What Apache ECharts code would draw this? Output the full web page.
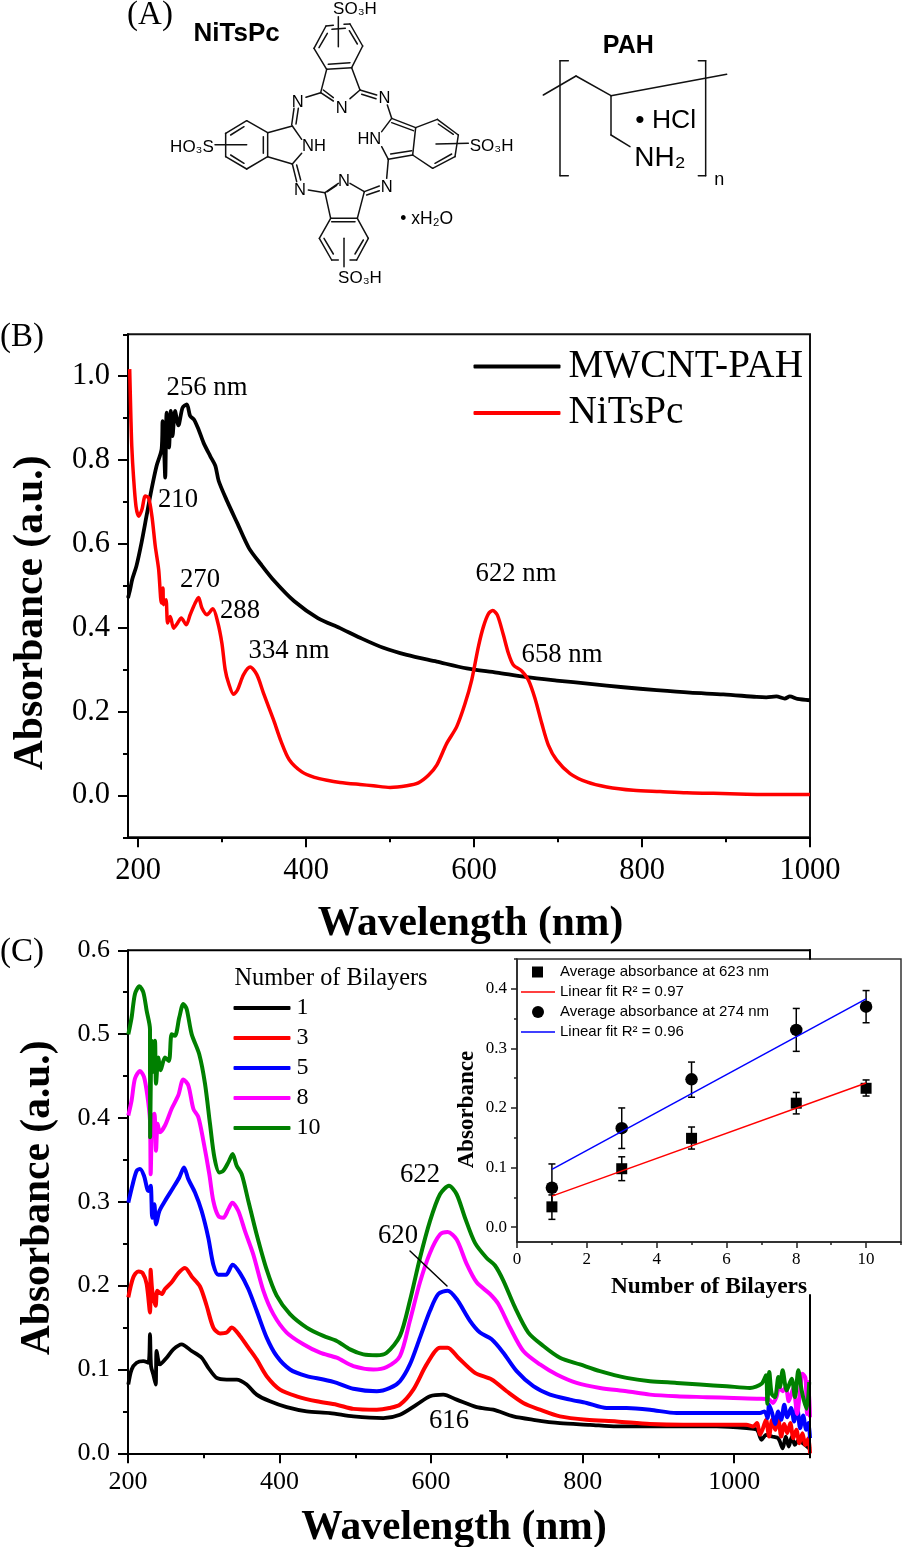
<!DOCTYPE html>
<html><head><meta charset="utf-8">
<style>html,body{margin:0;padding:0;background:#fff}#c{width:902px;height:1547px}</style>
<script src="https://cdn.jsdelivr.net/npm/echarts@6/dist/echarts.min.js"></script>
</head><body><div id="c"></div>
<script>
// ---------- DATA ----------
const mwcntPah=[[188,.471],[190.5,.491],[193,.515],[198,.547],[204,.602],[210,.666],[216,.730],[222,.786],[228,.826],[229.2,.893],[231,.826],[232.3,.758],[234,.913],[236.8,.83],[239,.917],[241,.857],[244,.917],[248,.883],[253,.925],[258,.933],[262,.905],[266.5,.897],[272,.873],[278,.841],[286,.809],[292,.786],[296,.750],[306,.702],[318,.650],[332,.590],[346,.552],[362,.512],[386,.463],[414,.423],[440.5,.399],[464.3,.376],[492,.352],[519.9,.335],[555.6,.319],[591.3,.303],[627,.293],[662.7,.282],[698.4,.274],[738,.266],[777.8,.258],[817.5,.251],[857.1,.245],[896.8,.241],[936.5,.235],[948,.234],[960,.236],[970,.231],[976,.236],[985,.230],[1000,.227]];
const niTsPc=[[190,1.017],[191.5,.897],[192.5,.833],[194.5,.762],[197.5,.690],[200.7,.666],[204.6,.682],[208.6,.714],[212.5,.71],[216.5,.666],[220.5,.594],[224.5,.539],[227.7,.459],[229.6,.495],[230.4,.455],[233.2,.467],[235.2,.411],[238.3,.427],[242.3,.399],[247,.411],[251.4,.423],[257.4,.407],[262,.431],[268,.459],[272,.472],[276,.447],[282,.431],[289,.445],[294.6,.415],[299.8,.363],[303.7,.3],[307.7,.268],[313.7,.241],[318.5,.252],[325.6,.288],[333.5,.306],[341.4,.288],[349.3,.244],[361.3,.18],[370,.13],[380,.085],[395,.056],[410,.043],[425,.036],[440.5,.031],[464.3,.026],[480.2,.023],[500,.019],[519.9,.023],[533.7,.030],[545.7,.048],[555.6,.072],[567.5,.124],[579.4,.164],[589.3,.219],[597.2,.275],[605.2,.355],[611.1,.402],[617.1,.433],[622.2,.441],[627.8,.430],[634.9,.383],[640.9,.339],[646.8,.311],[656.8,.297],[664.7,.275],[672.6,.231],[680.6,.172],[688.5,.120],[698.4,.084],[714.3,.052],[734.1,.032],[757.9,.020],[789.7,.012],[821.4,.009],[853.2,.006],[884.9,.005],[924.6,.003],[964.3,.002],[1000,.002]];

const bilayer1=[[200.4,.082],[204.8,.100],[211.4,.108],[220.2,.110],[226.8,.108],[229,.142],[230.4,.104],[233.4,.094],[236.5,.082],[237.8,.122],[242.2,.106],[251,.114],[259.8,.124],[270.8,.130],[284,.122],[297.2,.114],[306,.102],[317,.090],[330.2,.088],[343.4,.088],[356.6,.082],[369.8,.070],[387.4,.062],[409.4,.055],[435.8,.050],[466.6,.048],[497.4,.044],[537,.042],[558.9,.046],[580.9,.058],[598.5,.068],[616,.070],[633.7,.064],[660.1,.055],[682.1,.052],[708.5,.044],[734.9,.040],[770,.036],[809.7,.034],[844.8,.032],[888.8,.032],[932.8,.032],[976.8,.032],[1016.4,.030],[1030,.028],[1036,.016],[1042,.022],[1050,.02],[1058,.018],[1064,.006],[1068,.02],[1072,.008],[1076,.02],[1080,.01],[1084,.015],[1100,.005]];
const bilayer3=[[200.4,.186],[207,.210],[213.6,.217],[219.4,.215],[224.6,.202],[229,.168],[229.9,.219],[232,.194],[236.5,.176],[238.7,.194],[244.4,.190],[248.8,.196],[257.6,.204],[266.4,.215],[275.2,.221],[284,.211],[295,.199],[303.8,.176],[312.6,.150],[321.4,.143],[330.2,.144],[336.8,.150],[347.8,.140],[358.8,.126],[369.8,.112],[383,.092],[400.6,.076],[422.6,.068],[449,.062],[475.4,.058],[497.4,.053],[528.2,.052],[545,.054],[558.9,.058],[576.5,.076],[594.1,.106],[611.7,.126],[621.8,.126],[635.9,.114],[657.9,.096],[679.9,.088],[699.7,.074],[721.7,.060],[743.7,.052],[770,.044],[805.2,.040],[844.8,.038],[888.8,.035],[932.8,.034],[976.8,.034],[1016,.034],[1025,.032],[1030,.036],[1034,.022],[1038,.03],[1042,.04],[1046,.02],[1050,.04],[1054,.028],[1058,.042],[1062,.02],[1066,.035],[1070,.024],[1074,.036],[1078,.018],[1082,.028],[1086,.012],[1090,.024],[1094,.01],[1098,.018],[1100,.0]];
const bilayer5=[[200.4,.299],[206.2,.321],[211.4,.337],[215.8,.339],[221.1,.331],[226.8,.313],[229.9,.319],[232,.281],[234.8,.297],[237,.273],[241.4,.289],[248.8,.301],[259.8,.317],[267.7,.329],[273.9,.341],[279.6,.327],[288.4,.311],[297.2,.289],[306,.257],[312.6,.225],[319.2,.213],[329.3,.213],[338.1,.225],[347.8,.215],[358.8,.196],[369.8,.170],[383,.138],[396.2,.116],[413.8,.100],[435.8,.092],[457.8,.088],[475.4,.084],[497.4,.077],[528.2,.074],[545.8,.078],[558.9,.086],[572,.106],[585.3,.138],[598.5,.170],[609.5,.190],[621.8,.194],[633.7,.184],[651.3,.158],[664.5,.144],[679.9,.136],[695.3,.120],[712.9,.098],[734.9,.080],[756.9,.070],[783.3,.064],[805.2,.060],[831.6,.054],[858,.054],[888.8,.052],[924,.048],[963.6,.048],[998.8,.048],[1034,.048],[1040,.050],[1044,.042],[1046,.058],[1050,.048],[1054,.035],[1058,.05],[1062,.04],[1066,.058],[1070,.043],[1075,.054],[1079,.038],[1083,.056],[1087,.03],[1091,.045],[1095,.028],[1098,.036],[1100,.018]];
const bilayer8=[[200.4,.403],[204.8,.421],[209.2,.447],[215.8,.456],[221.1,.449],[225.5,.427],[229,.397],[229.9,.333],[232,.401],[234.8,.405],[237,.361],[239.1,.393],[242.2,.383],[248.8,.391],[257.6,.411],[266.4,.427],[273,.446],[279.6,.439],[286.2,.411],[292.8,.401],[299.4,.373],[307.3,.333],[312.6,.301],[319.2,.283],[325.8,.281],[332.4,.291],[337.7,.299],[345.6,.289],[354.4,.265],[365.4,.237],[378.6,.194],[391.8,.166],[409.4,.144],[431.4,.130],[453.4,.120],[475.4,.114],[497.4,.104],[523.8,.100],[541.4,.103],[558.9,.116],[572,.158],[585.3,.204],[598.5,.239],[611.7,.261],[621.8,.264],[633.7,.255],[646.9,.226],[660.1,.204],[677.7,.190],[688.7,.178],[704.1,.150],[721.7,.122],[743.7,.106],[765.7,.094],[792,.084],[822.8,.078],[858,.074],[888.8,.070],[924,.068],[963.6,.067],[998.8,.066],[1034,.065],[1046,.064],[1051,.060],[1056,.068],[1059,.079],[1064,.074],[1068,.079],[1072,.062],[1078,.078],[1083,.047],[1087,.075],[1090,.095],[1094,.09],[1096,.047],[1098,.085],[1100,.043]];
const bilayer10=[[200.4,.4996],[204.8,.520],[209.2,.548],[215,.557],[220.2,.550],[224.6,.528],[229,.506],[229.2,.377],[231.2,.492],[233,.455],[235.6,.492],[237,.441],[240,.472],[243,.457],[248.8,.472],[254,.468],[257.6,.500],[262,.498],[267.7,.520],[273,.536],[277.4,.530],[284,.500],[294,.476],[301.6,.441],[308.2,.393],[314,.353],[320.5,.335],[325.8,.337],[332.4,.347],[338.1,.357],[343.4,.343],[350,.333],[358.8,.301],[369.8,.261],[383,.219],[396.2,.188],[413.8,.166],[435.8,.150],[457.8,.140],[475.4,.134],[493,.124],[510.6,.118],[528.2,.117],[541.4,.120],[558.9,.140],[572,.182],[585.3,.233],[598.5,.277],[611.7,.309],[623.6,.319],[633.7,.309],[644.7,.281],[657.9,.251],[673.3,.233],[684.3,.224],[695.3,.206],[710.7,.174],[728.3,.144],[748.1,.128],[770,.114],[796.5,.106],[822.8,.098],[858,.090],[888.8,.086],[924,.084],[954.8,.082],[990,.080],[1020.8,.078],[1036,.083],[1041.9,.093],[1043.7,.059],[1046.3,.097],[1049.4,.071],[1053.8,.067],[1058.2,.091],[1060.4,.079],[1063.9,.099],[1069.2,.075],[1075.8,.089],[1080.2,.067],[1084.6,.099],[1089,.075],[1092,.063],[1095.6,.053],[1099,.085]];

const insetLayers=[1,3,5,8,10];
const abs623=[.034,.098,.149,.208,.233];
const abs623Low=[.013,.078,.131,.19,.22];
const abs623High=[.054,.118,.168,.226,.247];
const abs274=[.066,.166,.248,.331,.37];
const abs274Low=[.03,.132,.218,.295,.343];
const abs274High=[.106,.2,.277,.367,.397];
const fit623=[[1,.052],[10,.242]];
const fit274=[[1,.097],[10,.383]];

// ---------- STYLE ----------
const serif='"Liberation Serif","Times New Roman",serif', sans='"Liberation Sans",Arial,sans-serif';
const range=(a,b,s)=>{const o=[];for(let i=0;Math.round((a+i*s)*1e4)/1e4<=b;i++)o.push(Math.round((a+i*s)*1e4)/1e4);return o;};
const fmt1=v=>v.toFixed(1);

function axis(o){ // major (labelled) axis
  return Object.assign({type:'value',gridIndex:o.g,min:o.min,max:o.max,position:o.position,scale:true,
    splitLine:{show:false},
    axisLine:{show:true,onZero:false,lineStyle:{color:o.color||'#000',width:o.lw||2}},
    axisTick:{show:true,length:o.tl,customValues:o.major,lineStyle:{color:o.color||'#000',width:o.lw||2}},
    axisLabel:{show:true,customValues:o.major,formatter:o.fmt,margin:o.margin,color:'#000',fontFamily:serif,fontSize:o.fs},
    name:o.name,nameLocation:'middle',nameGap:o.gap,nameMoveOverlap:false,
    nameTextStyle:{color:'#000',fontFamily:serif,fontWeight:'bold',fontSize:o.nfs,padding:o.npad||0}
  });
}
function minor(o){ // unlabelled overlay carrying the short ticks
  return {type:'value',gridIndex:o.g,min:o.min,max:o.max,position:o.position,
    splitLine:{show:false},axisLine:{show:false,onZero:false},axisLabel:{show:false},
    axisTick:{show:true,length:o.tl,customValues:o.ticks,lineStyle:{color:o.color||'#000',width:o.lw||2}}};
}
const BX={min:188,max:1000}, BY={min:-.1,max:1.1}, CX={min:200,max:1100}, CY={min:0,max:.6}, IX={min:0,max:11}, IY={min:-.025,max:.45};

const xAxis=[
 axis({g:0,...BX,position:'bottom',major:range(200,1000,200),tl:10,margin:18,fs:30.5,fmt:v=>String(v),name:'Wavelength (nm)',gap:66,nfs:41.5,npad:[0,0,0,3]}),
 axis({g:1,...CX,position:'bottom',major:range(200,1000,200),tl:10,margin:16,fs:26,fmt:v=>String(v),name:'Wavelength (nm)',gap:54,nfs:41.5,npad:[0,30,0,0]}),
 axis({g:2,...IX,position:'bottom',major:range(0,10,2),tl:6,lw:1.5,color:'#222',margin:9,fs:17,fmt:v=>String(v),name:'Number of Bilayers',gap:33,nfs:23.4}),
 minor({g:0,...BX,position:'bottom',ticks:range(300,900,200),tl:5}),
 minor({g:1,...CX,position:'bottom',ticks:range(300,1100,200),tl:5}),
 minor({g:2,...IX,position:'bottom',ticks:range(1,11,2),tl:3,lw:1.5,color:'#222'})
];
const yAxis=[
 axis({g:0,...BY,position:'left',major:range(0,1,.2),tl:10,margin:18,fs:30.5,fmt:fmt1,name:'Absorbance (a.u.)',gap:75.5,nfs:41.5,npad:[0,54,0,0]}),
 axis({g:1,...CY,position:'left',major:range(0,.6,.1),tl:10,margin:18,fs:26,fmt:fmt1,name:'Absorbance (a.u.)',gap:69,nfs:41.5,npad:[0,0,0,8]}),
 axis({g:2,...IY,position:'left',major:range(0,.4,.1),tl:6,lw:1.5,color:'#222',margin:10,fs:17,fmt:fmt1,name:'Absorbance',gap:38,nfs:23,npad:[0,18,0,0]}),
 minor({g:0,...BY,position:'left',ticks:[-.1,.1,.3,.5,.7,.9,1.1],tl:5}),
 minor({g:1,...CY,position:'left',ticks:range(.05,.55,.1),tl:5}),
 minor({g:2,...IY,position:'left',ticks:[.05,.15,.25,.35,.45],tl:3,lw:1.5,color:'#222'})
];
const grid=[
 {left:128,top:334.3,width:682,height:503,outerBoundsMode:'none',show:true,borderColor:'#111',borderWidth:2,backgroundColor:'transparent'},
 {left:128,top:950.3,width:682,height:503,outerBoundsMode:'none'},
 {left:517,top:959,width:384,height:283,outerBoundsMode:'none',show:true,borderColor:'#333',borderWidth:1.5,backgroundColor:'#fff'}
];
const curve=(name,data,color,g,w)=>({type:'line',name,data,xAxisIndex:g,yAxisIndex:g,symbol:'none',smooth:.28,
  lineStyle:{color,width:w,join:'round'},itemStyle:{color},animation:false});
const errPairs=(low,high)=>insetLayers.map((x,i)=>[x,low[i],high[i]]);
const errSeries=(name,low,high)=>({type:'custom',name,xAxisIndex:2,yAxisIndex:2,data:errPairs(low,high),
  renderItem(p,api){const x=api.value(0),a=api.coord([x,api.value(1)]),b=api.coord([x,api.value(2)]);
    const st={stroke:'#000',lineWidth:1.5},c=3.5;
    return {type:'group',children:[
      {type:'line',shape:{x1:a[0],y1:a[1],x2:b[0],y2:b[1]},style:st},
      {type:'line',shape:{x1:a[0]-c,y1:a[1],x2:a[0]+c,y2:a[1]},style:st},
      {type:'line',shape:{x1:b[0]-c,y1:b[1],x2:b[0]+c,y2:b[1]},style:st}]};}});
const series=[
 curve('MWCNT-PAH',mwcntPah,'#000',0,3.8),
 curve('NiTsPc',niTsPc,'#ff0000',0,3.5),
 curve('1',bilayer1,'#000',1,3.8),
 curve('3',bilayer3,'#ff0000',1,4),
 curve('5',bilayer5,'#0000ff',1,4),
 curve('8',bilayer8,'#ff00ff',1,4),
 curve('10',bilayer10,'#008000',1,4),
 errSeries('err623',abs623Low,abs623High),
 errSeries('err274',abs274Low,abs274High),
 {type:'scatter',name:'Average absorbance at 623 nm',xAxisIndex:2,yAxisIndex:2,symbol:'rect',symbolSize:11,itemStyle:{color:'#000',opacity:1},data:insetLayers.map((x,i)=>[x,abs623[i]])},
 {type:'scatter',name:'Average absorbance at 274 nm',xAxisIndex:2,yAxisIndex:2,symbol:'circle',symbolSize:12.5,itemStyle:{color:'#000',opacity:1},data:insetLayers.map((x,i)=>[x,abs274[i]])},
 {type:'line',name:'Linear fit R² = 0.97',xAxisIndex:2,yAxisIndex:2,symbol:'none',data:fit623,lineStyle:{color:'#ff0000',width:1.5},itemStyle:{color:'#ff0000'}},
 {type:'line',name:'Linear fit R² = 0.96',xAxisIndex:2,yAxisIndex:2,symbol:'none',data:fit274,lineStyle:{color:'#0000ff',width:1.5},itemStyle:{color:'#0000ff'}}
];
const leg=(data,left,top,w,h,fs,gap,icon,family,pad,col)=>({show:true,orient:'vertical',left,top,data,itemWidth:w,itemHeight:h,itemGap:gap,icon,selectedMode:false,padding:0,
  itemStyle:{opacity:1},textStyle:{color:'#000',fontFamily:family,fontSize:fs,padding:pad||0,lineHeight:col||undefined}});
const legend=[
 leg(['MWCNT-PAH','NiTsPc'],473.5,344,87,4,39.2,1.5,'roundRect',serif,[0,0,0,3],45),
 leg(['1','3','5','8','10'],233.5,993,57,4,24,0,'roundRect',serif,[0,0,0,1],30),
 leg(['Average absorbance at 623 nm'],532,963,11,11,15,0,'rect',sans,[0,0,0,12],18),
 leg(['Linear fit R² = 0.97'],521,983,34,1.5,15,0,'rect',sans,[0,0,0,0],18),
 leg(['Average absorbance at 274 nm'],532,1003,12,12,15,0,'circle',sans,[0,0,0,11],18),
 leg(['Linear fit R² = 0.96'],521,1023,34,1.5,15,0,'rect',sans,[0,0,0,0],18)
];

// ---------- DECORATION: frame pieces, notes, molecular structures ----------
const txt=(t,x,y,font,align,extra)=>({type:'text',x,y,silent:true,z:10,style:Object.assign({text:t,font,fill:'#000',textAlign:align||'center',textVerticalAlign:'middle'},extra||{})});
const ln=(a,b,w,c)=>({type:'line',silent:true,z:10,shape:{x1:a[0],y1:a[1],x2:b[0],y2:b[1]},style:{stroke:c||'#000',lineWidth:w,lineCap:'round'}});
const note='26.7px '+serif;
const notes=[
 txt('(A)',150,15,'33px '+serif), txt('(B)',22,337,'33px '+serif), txt('(C)',22,952,'33px '+serif),
 txt('256 nm',207,388,note), txt('210',178,500,note), txt('270',200,580,note), txt('288',240,611,note),
 txt('334 nm',289,651,note), txt('622 nm',516,574,note), txt('658 nm',562,655,note),
 txt('622',420,1174.5,note), txt('620',398,1235.5,note), txt('616',449,1421,note),
 txt('Number of Bilayers',331,979,'24.3px '+serif),
 ln([410,1251],[447,1286],1.5),
 ln([128,950.3],[810,950.3],2), ln([810,950],[810,959],2), ln([810,1295],[810,1453],2)
];
const L=1.5, T=(x,y)=>[120+x/3,y/3], P=(x,y)=>[530+x/3,20+y/3];
const niBonds=[
 [582,145,618,78],[690,72,728,138],[728,138,695,203],[620,208,582,145],[618,78,640,76],[672,73,690,72],[620,208,695,203],
 [597,143,622,100],[688,92,712,132],[625,193,690,188],[636,88,676,85],[655,50,655,140],
 [620,208,602,278],[695,203,720,270],[602,278,640,303],[610,270,640,293],[720,270,690,296],[602,278,558,292],[720,270,770,285],[725,283,768,296],
 [317,400,380,362],[380,362,443,398],[443,398,443,470],[443,470,380,507],[380,507,317,470],[317,470,317,400],
 [332,405,372,380],[430,410,430,460],[332,465,372,490],[285,434,380,434],
 [443,398,517,378],[517,378,545,418],[545,460,517,492],[517,492,443,470],
 [522,325,515,375],[535,325,528,372],[517,492,530,545],[530,495,542,540],
 [815,355,887,383],[815,368,880,392],[815,355,785,395],[785,440,805,478],[805,478,878,465],[812,462,875,452],[887,383,878,465],[802,315,815,355],
 [887,383,952,358],[952,358,1015,405],[1015,405,1005,470],[1005,470,938,505],[938,505,878,465],[955,372,1000,403],[995,462,945,490],[948,432,1045,430],
 [805,478,800,535],
 [565,570,615,578],[615,578,655,550],[622,575,650,556],[615,578,632,655],[632,655,712,655],[712,655,733,575],[733,575,690,550],[733,575,778,558],[740,585,778,572],[635,665,705,665],
 [632,655,598,715],[712,655,745,715],[745,715,710,780],[598,715,635,780],[635,780,655,780],[690,780,710,780],[612,715,640,762],[730,720,705,762],[672,715,672,800]
].map(b=>ln(T(b[0],b[1]),T(b[2],b[3]),L,'#111'));
const pahBonds=[[40,225,138,168],[138,168,243,227],[243,227,590,163],[243,227,243,345],[243,345,300,380],
 [115,122,90,122],[90,122,90,467],[90,467,115,467],[505,122,527,122],[527,122,527,467],[527,467,505,467]
].map(b=>ln(P(b[0],b[1]),P(b[2],b[3]),L,'#111'));
const lab=(t,p,fs,bold,align)=>txt(t,p[0],p[1],(bold?'bold ':'')+fs+'px '+sans,align);
const labels=[
 lab('NiTsPc',T(350,100),26,true),
 lab('SO₃H',T(705,27),17), lab('SO₃H',T(720,835),17), lab('HO₃S',T(216,441),17), lab('SO₃H',T(1115,438),17),
 lab('N',T(533,308),16.5), lab('N',T(793,294),16.5), lab('N',T(665,325),16.5), lab('N',T(672,544),16.5), lab('N',T(540,570),16.5), lab('N',T(800,561),16.5),
 lab('NH',T(582,440),16.5), lab('HN',T(748,418),16.5), lab('• xH₂O',T(920,658),17.5),
 lab('PAH',P(295,78),25,true), lab('• HCl',P(407,302),26.5), lab('NH₂',P(390,415),28), lab('n',P(568,480),18)
];

const chart=echarts.init(document.getElementById('c'),null,{renderer:'canvas'});
chart.setOption({animation:false,backgroundColor:'#fff',grid,xAxis,yAxis,series,legend,
  graphic:{elements:[...notes,...niBonds,...pahBonds,...labels]}});
</script></body></html>
